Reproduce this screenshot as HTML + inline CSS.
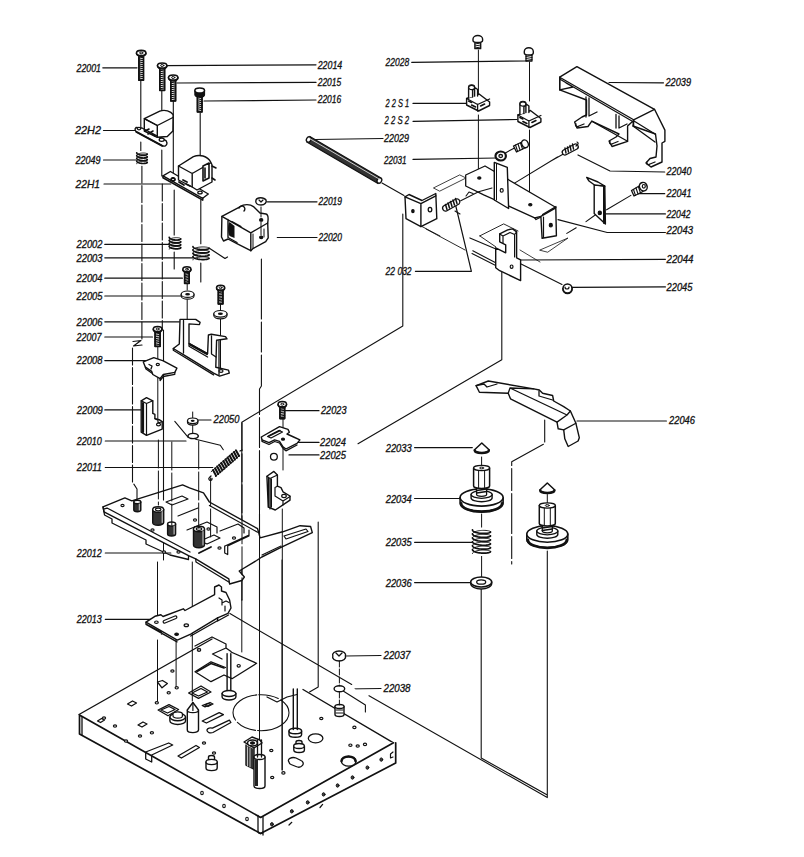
<!DOCTYPE html>
<html><head><meta charset="utf-8"><style>
html,body{margin:0;padding:0;background:#fff;width:804px;height:857px;overflow:hidden}
svg{display:block}
text{font-family:"Liberation Sans",sans-serif;font-style:italic;font-size:10.2px;fill:#111;stroke:#111;stroke-width:0.3}
</style></head><body>
<svg width="804" height="857" viewBox="0 0 804 857">
<rect width="804" height="857" fill="#fff"/>
<g fill="none" stroke="#111" stroke-width="1.2" stroke-linejoin="round" stroke-linecap="round">
<polyline points="102.8,67.8 137,67.8"/>
<polyline points="165.7,65.6 316,64.8"/>
<polyline points="177,83 316,82.4"/>
<polyline points="204,101 316,100"/>
<polyline points="103.5,130.5 136,130.5"/>
<polyline points="103.5,160 136,160"/>
<polyline points="104,184 170.7,184"/>
<polyline points="104.8,244.4 170.4,244.4"/>
<polyline points="104.8,257.8 192.8,257.8"/>
<polyline points="104.8,278.2 182.4,278.2"/>
<polyline points="104.8,296 181,296"/>
<polyline points="104.8,321.8 179.4,321.8"/>
<polyline points="104.8,337 152.5,337"/>
<polyline points="104.8,360.6 146.6,360.6"/>
<polyline points="104.8,409.9 140.6,409.9"/>
<polyline points="105.3,441 186,441"/>
<polyline points="105.3,467.5 212.8,467.5"/>
<polyline points="105.3,553 170.8,553"/>
<polyline points="105.3,619.3 150.7,619.3"/>
<polyline points="267.4,201.8 317,201.8"/>
<polyline points="277.3,237.5 317,237.5"/>
<polyline points="197.7,420 211,420"/>
<polyline points="285,410.7 319,410.7"/>
<polyline points="295,442.4 319,442.4"/>
<polyline points="289,454.9 319,454.9"/>
<polyline points="411.7,62.3 527,61"/>
<polyline points="413,103.4 466,103.4"/>
<polyline points="413,121.3 517,119.5"/>
<polyline points="314.7,139.5 383,138.5"/>
<polyline points="413,159.4 497,158"/>
<polyline points="415.4,271.3 471.4,271.3 454.6,201"/>
<polyline points="414.6,447.6 472.3,447.6"/>
<polyline points="414.6,498.5 461.8,498.5"/>
<polyline points="414.6,542.3 472.3,542.3"/>
<polyline points="414.6,582.6 470.7,582.6"/>
<polyline points="609,82.5 663.5,82.8"/>
<polyline points="578,155 610,171 664.7,172"/>
<polyline points="638,193.7 664.7,193.7"/>
<polyline points="605,213.9 665.4,213.9"/>
<polyline points="558,219.7 607.2,232.5 665.4,232.5"/>
<polyline points="520,260 665.4,259.3"/>
<polyline points="571.3,287.3 665.4,286.9"/>
<polyline points="577,421 666.4,421"/>
<polyline points="345.5,656 381,655.5"/>
<polyline points="344.7,689 381,688.5"/>
<path d="M478.4 50V100 M478.4 115V178 M529.5 62V101 M529.5 130V205" stroke-width="1"/>
<path d="M382 183 L404 195.4" stroke-width="1.1"/>
<path d="M402.8 214 V326 L241.8 422.2 V600" stroke-width="1.1"/>
<path d="M261.4 259 V386 L259.5 389 V600" stroke-width="1.1" stroke-dasharray="60 3 30 3"/>
<path d="M501.8 272 V359.7 L358 443.7" stroke-width="1.1"/>
<path d="M505.4 152.9 L515 147.7 M557.5 157 L508.8 186.6 M563.4 154 L550 161.5" stroke-width="1.1"/>
<path d="M606.6 209.8 L630.9 195.4 M597.3 213.5 L586 221.6 M576.2 227.8 L566.8 233.4" stroke-width="1.1"/>
<path d="M520.6 263.7 L562 284.5 M472.8 250.8 L495.7 262.7 M472 253.5 L495.7 265.5 M469.9 237.9 L497.7 249.8" stroke-width="1.1"/>
<path d="M540 250 L568 238 L548 252 Z M520 250 L540 262" stroke-width="0.8" fill="none"/>
<path d="M309.8 136.5 L381 178 L378 183.5 L306.8 142 Z" fill="#333" stroke-width="1.3"/>
<ellipse cx="379.4" cy="180.5" rx="2.2" ry="2.8" transform="rotate(30 379.4 180.5)" fill="#fff" stroke-width="1.3"/>
<ellipse cx="308.7" cy="139.5" rx="2.2" ry="2.8" transform="rotate(30 308.7 139.5)" fill="#fff" stroke-width="1.3"/>
<path d="M309.5 138.5 L380 179.5" stroke="#ddd" stroke-width="0.9"/>
<path d="M474.9 42 v6.7 h5.8 v-6.7" fill="#fff" stroke-width="1.3"/>
<path d="M474.9 44 l5.8 -1 M474.9 46 l5.8 -1 M474.9 48 l5.8 -1" stroke-width="1"/>
<path d="M473 39 a4.8 3.5 0 0 1 9.6 0 v1.5 a4.8 2 0 0 1 -9.6 0 Z" fill="#fff" stroke-width="1.4"/>
<path d="M526 54.5 v6.5 h6 v-6.5" fill="#fff" stroke-width="1.3"/>
<path d="M526 56.5 l6 -1 M526 58.5 l6 -1 M526 60.5 l6 -1" stroke-width="1"/>
<path d="M524.3 51.5 a4.5 3.8 0 0 1 9 0 v1.5 a4.5 2 0 0 1 -9 0 Z" fill="#fff" stroke-width="1.4"/>
<g transform="translate(466.6 84)">
<path d="M0 14.5 L12.5 10 L23 18 V21.5 L12 27 L0 21 Z" fill="#fff" stroke-width="1.4"/>
<path d="M0 14.5 L11 20.5 L23 15 M11 20.5 V27" fill="none" stroke-width="1.3"/>
<path d="M2 17 l3 1.5 M5 21 l4 2 M14 22 l4 -2" stroke-width="1.6"/>
<path d="M2 14 V3.5 a3 2.5 0 0 1 6 0 V12 M6 13 V6 l3 -2 l2 1.5 V12" fill="#fff" stroke-width="1.4"/>
<ellipse cx="5" cy="3.5" rx="3" ry="2.2" fill="#fff" stroke-width="1.3"/>
</g>
<g transform="translate(517.9 100.5)">
<path d="M0 14.5 L12.5 10 L23 18 V21.5 L12 27 L0 21 Z" fill="#fff" stroke-width="1.4"/>
<path d="M0 14.5 L11 20.5 L23 15 M11 20.5 V27" fill="none" stroke-width="1.3"/>
<path d="M2 17 l3 1.5 M5 21 l4 2 M14 22 l4 -2" stroke-width="1.6"/>
<path d="M2 14 V3.5 a3 2.5 0 0 1 6 0 V12 M6 13 V6 l3 -2 l2 1.5 V12" fill="#fff" stroke-width="1.4"/>
<ellipse cx="5" cy="3.5" rx="3" ry="2.2" fill="#fff" stroke-width="1.3"/>
</g>
<path d="M433.8 187.8 L459.7 174.9 L466 178 L440 191 Z" fill="none" stroke-width="0.8"/>
<path d="M405 196.8 L409 194.5 L422 200.5 L435.8 193.5 L436.8 218.7 L420.9 226.6 L406 218.7 Z" fill="#fff" stroke-width="1.4"/>
<path d="M405 196.8 L420.9 203.7 V226.6 M420.9 203.7 L435.8 195.8" fill="none" stroke-width="1.4"/>
<ellipse cx="412.9" cy="211.1" rx="1.2" ry="1.6" fill="#111"/>
<ellipse cx="430" cy="209.6" rx="1.8" ry="2.3" fill="#fff" stroke-width="1.3"/>
<path d="M465.7 175 L485 166 L556 207.5 L540.9 216.5 L534.7 217.8 L483.7 194.8 L465.7 186 Z" fill="#fff" stroke-width="1.3"/>
<path d="M534.7 217.8 L536 219.5 L541 217" fill="none" stroke-width="1.3"/>
<path d="M494.3 162.4 L507.3 167.4 L508.6 208.5 L494.3 200 Z" fill="#fff" stroke-width="1.4"/>
<path d="M496.5 164 V200" fill="none" stroke-width="1"/>
<ellipse cx="501.7" cy="190.4" rx="1.5" ry="1.8" fill="#fff" stroke-width="1.2"/>
<path d="M540.9 216.5 L555.8 207.8 L556.4 235.8 L542.1 238.3 Z" fill="#fff" stroke-width="1.4"/>
<path d="M542.5 214.5 L556 206.5 M543.5 217 V237.5" fill="none" stroke-width="1.2"/>
<ellipse cx="550.8" cy="225.2" rx="1.5" ry="1.8" fill="#111"/>
<ellipse cx="479.3" cy="178" rx="1.6" ry="1.1" fill="#111"/>
<ellipse cx="530.3" cy="204.7" rx="1.6" ry="1.1" fill="#111"/>
<path d="M460.7 200.7 L478.6 191.7 L492 188 M466 196 l3 -4 l4 1.5 M455 211 L460 214" fill="none" stroke-width="1.1"/>
<path d="M421 226 L440 236 M426 229 L465 250" fill="none" stroke-width="0.9"/>
<path d="M443.5 206 L456 199 a3 3 0 0 1 3 5 L446.5 211 a3 3 0 0 1 -3 -5 Z" fill="#fff" stroke-width="1.3"/><path d="M447 209.5 l-1.5 -5 M449.5 208 l-1.5 -5 M452 206.5 l-1.5 -5 M454.5 205 l-1.5 -5 M457 203.5 l-1.5 -5" stroke-width="1.5"/>
<path d="M495.5 156 a5.2 4.5 0 1 0 10.4 0 a5.2 4.5 0 1 0 -10.4 0 Z" fill="#fff" stroke-width="2.2"/>
<ellipse cx="500.7" cy="156" rx="1.8" ry="1.5" fill="#fff" stroke-width="1.3"/>
<path d="M513.5 146 L524 141 L527 147 L516.5 152 Z" fill="#fff" stroke-width="1.3"/>
<path d="M515.5 145 l2 6 M518 144 l2 6 M520.5 143 l2 6" stroke-width="1.1"/>
<ellipse cx="525" cy="143.8" rx="3.2" ry="4" transform="rotate(-25 525 143.8)" fill="#fff" stroke-width="1.4"/>
<path d="M563.5 150 L574 144.5 a2.5 2.5 0 0 1 3 4.5 L566.5 154.5 a2.5 2.5 0 0 1 -3 -4.5 Z" fill="#fff" stroke-width="1.3"/>
<path d="M566 153 l-1 -5 M568.5 152 l-1 -5 M571 150.5 l-1 -5 M573.5 149 l-1 -5" stroke-width="1.4"/>
<path d="M576 146 l2 -2 a1.5 1.5 0 0 0 -1 -2" stroke-width="1.2"/>
<path d="M479.8 235.9 L503.7 223.9 L518 231 M495.7 246.8 L479.8 235.9" fill="none" stroke-width="0.9"/>
<path d="M495.7 247.8 V267.7 L499.7 270.7 L520.6 280.6 V259.8 L516.6 257.8 V231.9 L512.6 228.9 L507.7 229.9 L499.7 233.9 V241.8 L505.7 244.8 V252.8 Z" fill="#fff" stroke-width="1.4"/>
<path d="M499.7 233.9 L503 236 L510 232.5 L514.6 234.5 V257 M503 236 V243 M514.6 234.5 L516.6 231.9" fill="none" stroke-width="1.2"/>
<ellipse cx="511.6" cy="266.7" rx="1.4" ry="1.7" fill="#fff" stroke-width="1.2"/>
<path d="M563.0 288.5 v0.5 a4.5 4.5 0 0 0 9.0 0 v-0.5" fill="#fff" stroke-width="1.6"/>
<ellipse cx="567.5" cy="288.5" rx="4.5" ry="4.5" fill="#fff" stroke-width="1.6"/>
<path d="M565 287 a2 2 0 0 0 4 0" stroke-width="1.2"/>
<path d="M594.2 184.9 L604.8 186.1 L605.4 224 L594.2 213.5 Z" fill="#fff" stroke-width="1.4"/>
<path d="M586.7 177.4 L598 182 L604.8 186.1 L594.5 185 L589 181 Z" fill="#fff" stroke-width="1.4"/>
<path d="M604 186 V223" stroke-width="2"/>
<ellipse cx="599.8" cy="212.9" rx="1.6" ry="1.8" fill="#111"/>
<path d="M631.5 190.5 L640 185.5 L643 191.5 L634 196 Z" fill="#fff" stroke-width="1.3"/>
<path d="M633.5 189.5 l2 6 M636 188 l2 6 M638.5 187 l2 6" stroke-width="1.1"/>
<ellipse cx="643.3" cy="186.7" rx="3.8" ry="4.3" transform="rotate(-25 643.3 186.7)" fill="#fff" stroke-width="1.5"/>
<ellipse cx="643.8" cy="186.3" rx="1.5" ry="1.8" fill="#fff" stroke-width="1.2"/>
<path d="M559.7 77.2 L576.9 66.7 L654.5 109.3 L664.9 130.1 V141.3 L662 143 V162 L651 167 L646 163 L650 158.5 L656 157 L657 146 L655.5 134 L633 126 L633.6 120.4 L627.6 126 V141.3 L612 146.5 L609 141 L616 137 L619 134 L591.8 121.2 L588 126.5 L577 128 L574.6 122 L582 117 L586.5 115 V100 L559.7 89.9 Z" fill="#fff" stroke-width="1.4"/>
<path d="M559.7 77.2 L633.6 119.8 L654.5 109.3 M560.5 79.5 L633.6 122 M559.7 77.2 V89.9 L573 87 L566 83 M586 97 V117 M589 98 V116 l8 -4 M616 114.5 V128 M619 116 V128 l8 -4 M634 121 L655 134 M591.8 121.2 L627.6 141.3 M633 126 L655 142 M633.6 120.4 V126" fill="none" stroke-width="1.3"/>
<path d="M576 124 a2 1.5 0 0 0 3 2 l5 -2 M610 141.5 a2 1.5 0 0 0 3 2 l5 -2 M647 162 a2 1.5 0 0 0 3 2 l5 -2" fill="none" stroke-width="1.3"/>

<path d="M544.7 420 V443.5 L511.7 461.8 V564" stroke-width="1.1" stroke-dasharray="22 3 40 3"/>
<path d="M481.2 588 V758 L547.3 795 M547.3 551 V797.6 L369 695.7" stroke-width="1.1"/>
<path d="M481.6 514 V528 M481.6 556 V577" stroke-width="1"/>
<path d="M476.1 385.6 L488.3 381 L533.8 388.9 L539.3 390 L542.6 393.3 L552.6 395.5 L553.7 401 L563.7 406.6 L570.4 411 L575.9 423.3 L579.3 437.7 L578.1 441 L568.2 446.5 L564.8 438.8 L563.7 429.9 L558.2 428.8 L557 422.1 L510.5 398.8 L508.2 393.3 L479.4 392.2 Z" fill="#fff" stroke-width="1.4"/>
<path d="M476.1 385.6 L484 384 L487 387 L497 384 M508.2 393.3 L510 388 L533.8 388.9 M510 388 L567 415 L570.4 411 M557 422.1 L567 415 M563.7 429.9 L575.9 423.3 M539 391 V396 L552.6 400" fill="none" stroke-width="1.3"/>
<path d="M474.3 450 L481.8 443 L489.3 450 a7.5 3 0 0 1 -15 0 Z" fill="#fff" stroke-width="1.5"/>
<path d="M474.8 450.5 a7 2.5 0 0 0 14 0" fill="none" stroke-width="2.5"/>
<path d="M539.8 490 L547.3 483 L554.8 490 a7.5 3 0 0 1 -15 0 Z" fill="#fff" stroke-width="1.5"/>
<path d="M540.3 490.5 a7 2.5 0 0 0 14 0" fill="none" stroke-width="2.5"/>
<path d="M481.6 457 V466" stroke-width="1"/>
<path d="M460.1 497.5 v5.5 a21.5 8.6 0 0 0 43.0 0 v-5.5" fill="#fff" stroke-width="1.6"/>
<path d="M461.1 503.5 a20.5 8.2 0 0 0 41.0 0" fill="none" stroke-width="2.8"/>
<ellipse cx="481.6" cy="497.5" rx="21.5" ry="8.6" fill="#fff" stroke-width="1.6"/>
<path d="M471.1 494.5 v3.5 a10.5 3.8 0 0 0 21 0 v-3.5" fill="#fff" stroke-width="1.4"/>
<ellipse cx="481.6" cy="494.5" rx="10.5" ry="3.8" fill="#fff" stroke-width="1.3"/>
<path d="M476.6 485 V494.5 a5 1.8 0 0 0 10 0 V485" fill="#fff" stroke-width="1.3"/>
<path d="M476.6 488 l10 -1.5 M476.6 490.5 l10 -1.5 M476.6 493 l10 -1.5" stroke-width="1.5"/>
<path d="M473.6 468 V486 a8 2.5 0 0 0 16 0 V468" fill="#fff" stroke-width="1.5"/>
<path d="M478.6 470 V487.5 M484.6 470 V487.5" stroke-width="1"/>
<ellipse cx="481.6" cy="468" rx="8" ry="2.6" fill="#fff" stroke-width="1.4"/>
<ellipse cx="481.6" cy="468" rx="2" ry="0.9" fill="#fff" stroke-width="1"/>
<path d="M547.3 494.5 V503.5" stroke-width="1"/>
<path d="M526.8 534 v5.5 a20.5 8.2 0 0 0 41.0 0 v-5.5" fill="#fff" stroke-width="1.6"/>
<path d="M527.8 540 a19.5 7.8 0 0 0 39.0 0" fill="none" stroke-width="2.8"/>
<ellipse cx="547.3" cy="534" rx="20.5" ry="8.2" fill="#fff" stroke-width="1.6"/>
<path d="M536.8 531 v3.5 a10.5 3.8 0 0 0 21 0 v-3.5" fill="#fff" stroke-width="1.4"/>
<ellipse cx="547.3" cy="531" rx="10.5" ry="3.8" fill="#fff" stroke-width="1.3"/>
<path d="M542.3 522.5 V531 a5 1.8 0 0 0 10 0 V522.5" fill="#fff" stroke-width="1.3"/>
<path d="M542.3 525.5 l10 -1.5 M542.3 528.0 l10 -1.5 M542.3 530.5 l10 -1.5" stroke-width="1.5"/>
<path d="M539.3 505.5 V523.5 a8 2.5 0 0 0 16 0 V505.5" fill="#fff" stroke-width="1.5"/>
<path d="M544.3 507.5 V525.0 M550.3 507.5 V525.0" stroke-width="1"/>
<ellipse cx="547.3" cy="505.5" rx="8" ry="2.6" fill="#fff" stroke-width="1.4"/>
<ellipse cx="547.3" cy="505.5" rx="2" ry="0.9" fill="#fff" stroke-width="1"/>
<rect x="472.5" y="527.5" width="18" height="28.5" fill="#fff" stroke="none"/>
<path d="M490.50,531.91 L490.42,531.67 L490.19,531.44 L489.81,531.22 L489.29,531.02 L488.64,530.83 L487.86,530.68 L486.98,530.55 L486.00,530.45 L484.94,530.39 L483.83,530.37 L482.67,530.39 L481.50,530.45 L480.33,530.55 L479.17,530.70 L478.06,530.88 L477.00,531.11 L476.02,531.37 L475.14,531.66 L474.36,531.98 L473.71,532.33 L473.19,532.70 L472.81,533.08 L472.58,533.48 L472.50,533.88M490.50,535.85 L490.42,535.61 L490.19,535.38 L489.81,535.16 L489.29,534.95 L488.64,534.77 L487.86,534.61 L486.98,534.48 L486.00,534.39 L484.94,534.33 L483.83,534.31 L482.67,534.33 L481.50,534.39 L480.33,534.49 L479.17,534.63 L478.06,534.82 L477.00,535.04 L476.02,535.30 L475.14,535.59 L474.36,535.92 L473.71,536.26 L473.19,536.63 L472.81,537.02 L472.58,537.41 L472.50,537.81M490.50,539.78 L490.42,539.55 L490.19,539.31 L489.81,539.09 L489.29,538.89 L488.64,538.70 L487.86,538.55 L486.98,538.42 L486.00,538.32 L484.94,538.26 L483.83,538.24 L482.67,538.26 L481.50,538.32 L480.33,538.43 L479.17,538.57 L478.06,538.76 L477.00,538.98 L476.02,539.24 L475.14,539.53 L474.36,539.85 L473.71,540.20 L473.19,540.57 L472.81,540.95 L472.58,541.35 L472.50,541.75M490.50,543.72 L490.42,543.48 L490.19,543.25 L489.81,543.03 L489.29,542.82 L488.64,542.64 L487.86,542.48 L486.98,542.35 L486.00,542.26 L484.94,542.20 L483.83,542.18 L482.67,542.20 L481.50,542.26 L480.33,542.36 L479.17,542.51 L478.06,542.69 L477.00,542.91 L476.02,543.17 L475.14,543.47 L474.36,543.79 L473.71,544.14 L473.19,544.50 L472.81,544.89 L472.58,545.28 L472.50,545.69M490.50,547.65 L490.42,547.42 L490.19,547.19 L489.81,546.96 L489.29,546.76 L488.64,546.58 L487.86,546.42 L486.98,546.29 L486.00,546.19 L484.94,546.13 L483.83,546.11 L482.67,546.13 L481.50,546.19 L480.33,546.30 L479.17,546.44 L478.06,546.63 L477.00,546.85 L476.02,547.11 L475.14,547.40 L474.36,547.72 L473.71,548.07 L473.19,548.44 L472.81,548.83 L472.58,549.22 L472.50,549.62M490.50,551.59 L490.42,551.35 L490.19,551.12 L489.81,550.90 L489.29,550.70 L488.64,550.51 L487.86,550.35 L486.98,550.23 L486.00,550.13 L484.94,550.07 L483.83,550.05 L482.67,550.07 L481.50,550.13 L480.33,550.23 L479.17,550.38 L478.06,550.56 L477.00,550.79 L476.02,551.05 L475.14,551.34 L474.36,551.66 L473.71,552.01 L473.19,552.38 L472.81,552.76 L472.58,553.16 L472.50,553.56" stroke-width="0.9" fill="none"/>
<path d="M472.50,529.94 L472.58,530.34 L472.81,530.74 L473.19,531.12 L473.71,531.49 L474.36,531.84 L475.14,532.16 L476.02,532.45 L477.00,532.71 L478.06,532.94 L479.17,533.12 L480.33,533.27 L481.50,533.37 L482.67,533.43 L483.83,533.45 L484.94,533.43 L486.00,533.37 L486.98,533.27 L487.86,533.15 L488.64,532.99 L489.29,532.80 L489.81,532.60 L490.19,532.38 L490.42,532.15 L490.50,531.91M472.50,533.88 L472.58,534.28 L472.81,534.67 L473.19,535.06 L473.71,535.43 L474.36,535.78 L475.14,536.10 L476.02,536.39 L477.00,536.65 L478.06,536.87 L479.17,537.06 L480.33,537.20 L481.50,537.31 L482.67,537.37 L483.83,537.39 L484.94,537.37 L486.00,537.31 L486.98,537.21 L487.86,537.08 L488.64,536.92 L489.29,536.74 L489.81,536.54 L490.19,536.31 L490.42,536.08 L490.50,535.85M472.50,537.81 L472.58,538.22 L472.81,538.61 L473.19,539.00 L473.71,539.36 L474.36,539.71 L475.14,540.03 L476.02,540.33 L477.00,540.59 L478.06,540.81 L479.17,540.99 L480.33,541.14 L481.50,541.24 L482.67,541.30 L483.83,541.32 L484.94,541.30 L486.00,541.24 L486.98,541.15 L487.86,541.02 L488.64,540.86 L489.29,540.68 L489.81,540.47 L490.19,540.25 L490.42,540.02 L490.50,539.78M472.50,541.75 L472.58,542.15 L472.81,542.55 L473.19,542.93 L473.71,543.30 L474.36,543.65 L475.14,543.97 L476.02,544.26 L477.00,544.52 L478.06,544.74 L479.17,544.93 L480.33,545.07 L481.50,545.18 L482.67,545.24 L483.83,545.26 L484.94,545.24 L486.00,545.18 L486.98,545.08 L487.86,544.95 L488.64,544.80 L489.29,544.61 L489.81,544.41 L490.19,544.19 L490.42,543.95 L490.50,543.72M472.50,545.69 L472.58,546.09 L472.81,546.48 L473.19,546.87 L473.71,547.24 L474.36,547.58 L475.14,547.91 L476.02,548.20 L477.00,548.46 L478.06,548.68 L479.17,548.87 L480.33,549.01 L481.50,549.11 L482.67,549.17 L483.83,549.19 L484.94,549.17 L486.00,549.11 L486.98,549.02 L487.86,548.89 L488.64,548.73 L489.29,548.55 L489.81,548.34 L490.19,548.12 L490.42,547.89 L490.50,547.65M472.50,549.62 L472.58,550.02 L472.81,550.42 L473.19,550.80 L473.71,551.17 L474.36,551.52 L475.14,551.84 L476.02,552.13 L477.00,552.39 L478.06,552.62 L479.17,552.80 L480.33,552.95 L481.50,553.05 L482.67,553.11 L483.83,553.13 L484.94,553.11 L486.00,553.05 L486.98,552.95 L487.86,552.82 L488.64,552.67 L489.29,552.48 L489.81,552.28 L490.19,552.06 L490.42,551.83 L490.50,551.59" stroke-width="1.7" fill="none"/>
<path d="M470.7 582 v1.5 a10.5 5.5 0 0 0 21 0 v-1.5" fill="#fff" stroke-width="1.4"/>
<ellipse cx="481.2" cy="582" rx="10.5" ry="5" fill="#fff" stroke-width="1.5"/><ellipse cx="481.2" cy="582" rx="4.5" ry="2.2" fill="#fff" stroke-width="1.3"/>
<path d="M79 714.5 L212 639 L229.9 613.6 L351.7 684.5 L393.5 742.8 L262.7 816 Z" fill="#fff" stroke="none"/>
<path d="M79 714.5 L212 639 M303 689.5 L393.5 742.8" fill="none" stroke-width="1.4"/>
<path d="M79.5 715 V734 L260.6 833.5 L395.7 763 V742.8 M79.5 715 L260.6 817.5 L393.5 742.8" fill="#fff" stroke-width="1.7"/>
<path d="M82 717 V735 M263 817 V835 M258 815.5 V831 a2.5 2.5 0 0 0 5 0" fill="none" stroke-width="1.3"/>

<ellipse cx="202" cy="793" rx="1.3" ry="1.7" fill="#fff" stroke-width="1.1"/>
<ellipse cx="224" cy="806" rx="1.3" ry="1.7" fill="#fff" stroke-width="1.1"/>
<ellipse cx="247" cy="819" rx="1.3" ry="1.7" fill="#fff" stroke-width="1.1"/>
<ellipse cx="271.9" cy="824.3" rx="1.4" ry="1.7" fill="#444" stroke-width="1"/>
<ellipse cx="291.8" cy="811.3" rx="1.4" ry="1.7" fill="#444" stroke-width="1"/>
<ellipse cx="307.7" cy="802.4" rx="1.4" ry="1.7" fill="#444" stroke-width="1"/>
<ellipse cx="323.6" cy="794.4" rx="1.4" ry="1.7" fill="#444" stroke-width="1"/>
<ellipse cx="337.6" cy="785.5" rx="1.4" ry="1.7" fill="#444" stroke-width="1"/>
<ellipse cx="352.5" cy="777.5" rx="1.4" ry="1.7" fill="#444" stroke-width="1"/>
<ellipse cx="367.4" cy="767.6" rx="1.4" ry="1.7" fill="#444" stroke-width="1"/>
<ellipse cx="381.3" cy="759.6" rx="1.4" ry="1.7" fill="#444" stroke-width="1"/>
<path d="M291.8 822.3 L289 825 M322.6 804.4 L320 807.5 M393 752 l-2.5 2 v4 l2.5 -1" fill="none" stroke-width="1.2"/>
<path d="M229.9 613.6 L351.7 684.5 M340 689 L365.4 705 V712 M318.2 522 V687 L309.5 692" stroke-width="1.1"/><path d="M241.8 600 V652 M259.5 600 V736 M282 560 V770 M157.5 562 V620 M157.5 640 V702 M176.1 640 V687 M192.3 562 V701 M163.5 500 V560" stroke-width="1"/><path d="M267 697 L277 702 L287 697 L297 694.5" fill="none" stroke-width="1.2"/>
<ellipse cx="261" cy="712.7" rx="28" ry="18" fill="none" stroke-width="1.1" stroke-dasharray="40 2 20 3"/>
<path d="M195 646 L212 637 L226 644 V648 L212.5 654 L222 659 M231 652 L256.6 663.3 L232 678.7 L224 675 L211 681.7 L195 671.8 L211 661.8 L225.5 667.5 M226 648 L231 651.5" fill="none" stroke-width="1.3"/>
<path d="M197 671.5 L211 663.5 L224 668" fill="none" stroke-width="1.6"/>
<ellipse cx="198.9" cy="649.9" rx="1.6" ry="1.2" fill="#fff" stroke-width="1.2"/>
<ellipse cx="238.7" cy="665.8" rx="1.6" ry="1.3" fill="#fff" stroke-width="1.2"/>
<path d="M157.5 682 L162.5 680.5 L167.4 683.5 L162 687.8 Z M188.6 693 L201 686 L211 692 L198.5 698.4 Z M192 693 L201 688.5 L207.5 692 L198.5 696 Z M202.2 705.5 L208 703.4 L211 704.5 L205 706.8 Z M158.1 710 L169 704.6 L178.6 709.5 L168 715.8 Z M161 710 L169 706.5 L175 709.5 L167.5 713 Z" fill="none" stroke-width="1.3"/>
<path d="M202.2 721 l17 -8.3 l4.2 2 l-17 8.3 Z M178 756 l18 -10.5 l3.4 2 l-18 10.5 Z M206.9 730 a4 3 0 0 0 6 2.5 l18 -10 l-1.5 -2.3 l-17 8 a4 3 0 0 0 -5.5 1.8 Z M145.7 752 l23 -9 l4 2 l-21 10 v7 l-6 -3 Z" fill="none" stroke-width="1.3"/>
<path d="M220 730 L235 722 l3 1.5 L222.5 732 Z" fill="#111" stroke="none" opacity="0"/>
<path d="M169.9 717 v4 a7.8 3.5 0 0 0 15.6 0 V717" fill="#fff" stroke-width="1.4"/>
<ellipse cx="177.7" cy="717" rx="7.8" ry="3.8" fill="#fff" stroke-width="1.4"/>
<path d="M173 716 v-2 a4.7 2.2 0 0 1 9.4 0 v2 a4.7 2.2 0 0 1 -9.4 0" fill="#fff" stroke-width="1.2"/>
<path d="M187.3 710 l5.6 -7.5 l5.6 7.5 V730 a5.6 2.6 0 0 1 -11.2 0 Z" fill="#fff" stroke-width="1.4"/>
<path d="M187.3 710 a5.6 2.6 0 0 0 11.2 0 M192.9 702.5 v8" fill="none" stroke-width="1.2"/>
<path d="M227.1 653.6 V692 M230.8 653.6 V692" stroke-width="1.4"/>
<path d="M222.1 693.5 v3.5 a6.9 3 0 0 0 13.8 0 v-3.5" fill="#fff" stroke-width="1.4"/>
<ellipse cx="229" cy="693.5" rx="6.9" ry="3" fill="#fff" stroke-width="1.4"/>
<path d="M289 731 v3.5 a6.3 2.8 0 0 0 12.6 0 v-3.5" fill="#fff" stroke-width="1.4"/>
<ellipse cx="295.3" cy="731" rx="6.3" ry="2.8" fill="#fff" stroke-width="1.4"/>
<path d="M293.3 689 V729.5 M297.3 689 V729.5" stroke-width="1.4"/>

<path d="M206 762 v6 a5.6 2.6 0 0 0 11.2 0 v-6 M208.5 762 v-5 a3 1.5 0 0 1 6 0 v5" fill="#fff" stroke-width="1.4"/>
<ellipse cx="211.6" cy="762" rx="5.6" ry="2.6" fill="#fff" stroke-width="1.3"/>
<path d="M293.8 746 v4 a5.3 2.5 0 0 0 10.6 0 v-4 M296 746 v-4 a3 1.5 0 0 1 6 0 v4" fill="#fff" stroke-width="1.4"/>
<ellipse cx="299" cy="746" rx="5.3" ry="2.5" fill="#fff" stroke-width="1.3"/>
<path d="M289 762 a5 3 0 0 1 7 -4 l5 2.5 a4 3 0 0 1 -5 6 l-5 -2 a3 3 0 0 1 -2 -2.5 Z" fill="#fff" stroke-width="1.3"/>
<ellipse cx="315.6" cy="738.3" rx="7.3" ry="4.5" fill="#fff" stroke-width="1.3"/>
<ellipse cx="348.7" cy="761.3" rx="7.3" ry="4.8" fill="#fff" stroke-width="1.3"/>
<path d="M341.5 761 a7 4.5 0 0 1 14 0" fill="none" stroke-width="2.5"/>
<path d="M246 745 v20 l8 4 v-22" fill="#fff" stroke-width="1.4"/>
<path d="M244 742 l8 -5 l8 3 l2 3 l-8 5 Z" fill="#fff" stroke-width="1.4"/>
<ellipse cx="252.5" cy="743" rx="5" ry="3" fill="#fff" stroke-width="1.5"/>
<ellipse cx="252.5" cy="743" rx="2" ry="1.2" fill="#111"/>
<path d="M246 745 L254 749 V769 L246 765 Z" fill="#333" stroke="none"/><path d="M247.5 747 V766 M250 748 V767" stroke="#fff" stroke-width="0.7"/>
<path d="M254 757 V786 a5.5 2.5 0 0 0 11 0 V757" fill="#fff" stroke-width="1.4"/>
<ellipse cx="259.5" cy="757" rx="5.5" ry="2.5" fill="#fff" stroke-width="1.3"/>
<path d="M255 759 V786 h3 V760 Z" fill="#222" stroke="none"/>
<path d="M257.5 740 V757 M261.5 740 V757" stroke-width="1.3"/>
<path d="M335 706.5 v8 a4.5 2 0 0 0 9 0 v-8" fill="#fff" stroke-width="1.4"/>
<ellipse cx="339.5" cy="706.5" rx="4.5" ry="2" fill="#fff" stroke-width="1.3"/>
<path d="M336 710 h7 M336 713 h7" stroke-width="1"/>
<path d="M97.5 721 l4 -2.5 l3 1.5 l-4 2.5 Z M138 725 l5 -3 l4 2 l-5 3 Z M127.5 704 l5 -3 l4 2 l-5 3 Z M205 705 l5 -2.5 l3 1.5 l-5 2.5 Z" fill="none" stroke-width="1.3"/>
<ellipse cx="168.7" cy="692.8" rx="1.6" ry="1.2" fill="#fff" stroke-width="1.2"/>
<ellipse cx="176.7" cy="687.8" rx="1.6" ry="1.2" fill="#fff" stroke-width="1.2"/>
<ellipse cx="172.4" cy="671" rx="1.6" ry="1.2" fill="#fff" stroke-width="1.2"/>
<ellipse cx="199.1" cy="649.9" rx="1.6" ry="1.2" fill="#fff" stroke-width="1.2"/>
<ellipse cx="156.8" cy="702.8" rx="1.6" ry="1.2" fill="#fff" stroke-width="1.2"/>
<ellipse cx="151.9" cy="732.8" rx="1.6" ry="1.2" fill="#fff" stroke-width="1.2"/>
<ellipse cx="204" cy="743" rx="1.6" ry="1.2" fill="#fff" stroke-width="1.2"/>
<ellipse cx="271.3" cy="750.5" rx="1.6" ry="1.2" fill="#fff" stroke-width="1.2"/>
<ellipse cx="272.2" cy="777.5" rx="1.6" ry="1.2" fill="#fff" stroke-width="1.2"/>
<ellipse cx="283.4" cy="772.9" rx="1.6" ry="1.2" fill="#fff" stroke-width="1.2"/>
<ellipse cx="321.3" cy="718.5" rx="1.6" ry="1.2" fill="#fff" stroke-width="1.2"/>
<ellipse cx="354.4" cy="727.4" rx="1.6" ry="1.2" fill="#fff" stroke-width="1.2"/>
<ellipse cx="350.4" cy="745.2" rx="1.6" ry="1.2" fill="#fff" stroke-width="1.2"/>
<ellipse cx="357.7" cy="746" rx="1.6" ry="1.2" fill="#fff" stroke-width="1.2"/>
<ellipse cx="365" cy="744.4" rx="1.6" ry="1.2" fill="#fff" stroke-width="1.2"/>
<ellipse cx="104" cy="718" rx="1.6" ry="1.2" fill="#fff" stroke-width="1.2"/>
<ellipse cx="126" cy="741" rx="1.6" ry="1.2" fill="#fff" stroke-width="1.2"/>
<ellipse cx="140" cy="736" rx="1.6" ry="1.2" fill="#fff" stroke-width="1.2"/>
<ellipse cx="115" cy="726" rx="1.6" ry="1.2" fill="#fff" stroke-width="1.2"/>
<ellipse cx="214" cy="753" rx="1.6" ry="1.2" fill="#fff" stroke-width="1.2"/>
<path d="M332.8 656 a6.5 4 0 1 0 12.6 0 a6.5 4 0 1 0 -12.6 0 Z" fill="#fff" stroke-width="1.4"/>
<path d="M336 653 l3 3 l3 -3" stroke-width="1.3"/>
<ellipse cx="339.4" cy="688.8" rx="5.3" ry="3" fill="#fff" stroke-width="1.4"/>
<path d="M339.4 661V686 M339.4 692V705" stroke-width="1" stroke-dasharray="6 2"/>
<path d="M103 506.8 L124.9 497.9 L131.8 500.8 L182.6 484.9 L189.5 487.9 L203.5 492.9 L209.4 502 L257.6 528.7 L260.1 537.9 L282.7 531.8 L300.1 525.7 L310.6 526.5 L312.3 532.6 L281 547.4 L261.8 557 L256.6 560.5 L239.2 571 L244.4 577 L241.8 580.5 L229.6 584 L228.8 578.8 L195.7 558.8 L188.5 555.6 L104 511.8 Z" fill="#fff" stroke-width="1.4"/>
<path d="M103 506.8 L104 511.8 M103.5 509 L107 508 L190 552 M104 511.8 L104.5 515 L112 519 V523 L128 531 L146 540 V544 L170 555 L188.5 559.5 V556 M195.7 558.8 L196 562 L228.8 582" fill="none" stroke-width="1.3"/>
<path d="M209.4 505.5 L257.6 532.2 M284 536 L306 529 L308 531.5 L286 539 Z M262 555 L281 546" fill="none" stroke-width="1.2"/>
<path d="M166 502 l16 -6 l6 3 l-16 6 Z M178 516 l20 -8 M187 530 l20 -8 l10 5 v6 M200 541 l14 -6 l6 3 l-13 6 Z M220 531 l18 -7 l6 4 l0 5 M224.7 546 V553 l3 1.5 V546 L249 536 V530 M225 546 L249 535" fill="none" stroke-width="1.2"/>
<path d="M199 553 L211 547" stroke-width="1.8"/>
<path d="M133.8 502 V510 a3.5 1.75 0 0 0 7 0 V502" fill="#333" stroke-width="1.4"/>
<ellipse cx="137.3" cy="502" rx="3.5" ry="1.75" fill="#fff" stroke-width="1.4"/>
<path d="M139.3 504 V510" stroke="#fff" stroke-width="0.8"/>
<path d="M152.7 509.5 V522.5 a5.5 2.75 0 0 0 11 0 V509.5" fill="#333" stroke-width="1.4"/>
<ellipse cx="158.2" cy="509.5" rx="5.5" ry="2.75" fill="#fff" stroke-width="1.4"/>
<path d="M162.2 511.5 V522.5" stroke="#fff" stroke-width="0.8"/>
<ellipse cx="158.2" cy="509.5" rx="2.75" ry="1.375" fill="#fff" stroke-width="1.1"/>
<path d="M167.6 524 V534 a4.0 2.0 0 0 0 8 0 V524" fill="#333" stroke-width="1.4"/>
<ellipse cx="171.6" cy="524" rx="4.0" ry="2.0" fill="#fff" stroke-width="1.4"/>
<path d="M174.1 526 V534" stroke="#fff" stroke-width="0.8"/>
<path d="M193.5 529 V545 a5.5 2.75 0 0 0 11 0 V529" fill="#333" stroke-width="1.4"/>
<ellipse cx="199" cy="529" rx="5.5" ry="2.75" fill="#fff" stroke-width="1.4"/>
<path d="M203.0 531 V545" stroke="#fff" stroke-width="0.8"/>
<ellipse cx="199" cy="529" rx="2.75" ry="1.375" fill="#fff" stroke-width="1.1"/>
<ellipse cx="122.5" cy="505.5" rx="1.6" ry="1.1" fill="#fff" stroke-width="1.1"/>
<ellipse cx="152.5" cy="530" rx="1.6" ry="1.1" fill="#fff" stroke-width="1.1"/>
<ellipse cx="178.5" cy="552" rx="1.6" ry="1.1" fill="#fff" stroke-width="1.1"/>
<ellipse cx="195" cy="520" rx="1.6" ry="1.1" fill="#fff" stroke-width="1.1"/>
<ellipse cx="219.5" cy="548" rx="1.6" ry="1.1" fill="#fff" stroke-width="1.1"/>
<ellipse cx="208.5" cy="529" rx="1.6" ry="1.1" fill="#fff" stroke-width="1.1"/>
<ellipse cx="164" cy="552" rx="1.6" ry="1.1" fill="#fff" stroke-width="1.1"/>
<ellipse cx="234" cy="538" rx="1.6" ry="1.1" fill="#fff" stroke-width="1.1"/>
<path d="M146 622.2 L154.9 616.3 L160.9 614.8 L163 616.5 L183.3 608.8 L185 610.5 L214.6 594.6 V587 L219 585 L221.5 587 V591 L226 592.5 L229.6 600 L231 608 L228 613.3 L217.6 617.8 L190.7 634.2 L177.3 640.1 Z" fill="#fff" stroke-width="1.4"/>
<path d="M146 622.2 v2.2 L177 641.8 M146 624 L161.5 632 l0 2 M217.6 617.8 l0 3.2 M217.6 621 L228.5 615 M190.7 636 L217 621" fill="none" stroke-width="1.4"/>
<path d="M222 603 l4 -2 l3 1.5 M219 598 l3 2 v5 M225 606 v5" fill="none" stroke-width="1.2"/>
<ellipse cx="156.4" cy="622.2" rx="1.8" ry="1.2" fill="#fff" stroke-width="1.2"/>
<ellipse cx="186.3" cy="625.2" rx="2.2" ry="1.4" fill="#fff" stroke-width="1.2"/>
<ellipse cx="176.6" cy="634.2" rx="1.8" ry="1.2" fill="#111"/>
<path d="M164 620.5 l11 -4.5 a1.3 1.3 0 0 1 1 2.5 l-11 4.5 a1.3 1.3 0 0 1 -1 -2.5 Z" fill="#fff" stroke-width="1.2"/>
<g stroke-width="1.1">
<path d="M140.8 80V127 M140.8 142V151"/>
<path d="M141.9 166V339 M132.5 348V482 L137 489 V500" stroke-dasharray="17 2.5"/>
<path d="M161.8 90V139 M161.8 150V176"/>
<path d="M162.3 184V330" stroke-dasharray="17 2.5"/><path d="M163.5 330V500"/>
<path d="M173.3 100V173 M174.2 190V236 M174.2 252V269"/>
<path d="M200.2 113V192 M200.8 200V244 M200.8 263V282"/>
</g>
<rect x="138.9" y="55.8" width="4.6" height="24.5" fill="#fff"/>
<path d="M138.9 58.1L143.5 57.3M138.9 60.1L143.5 59.3M138.9 62.1L143.5 61.3M138.9 64.1L143.5 63.3M138.9 66.1L143.5 65.3M138.9 68.1L143.5 67.3M138.9 70.1L143.5 69.3M138.9 72.1L143.5 71.3M138.9 74.1L143.5 73.3M138.9 76.1L143.5 75.3M138.9 78.1L143.5 77.3M138.9 80.1L143.5 79.3" stroke-width="1.1"/>
<path d="M138.9 55.8V80.3H143.5V55.8" fill="none" stroke-width="1.6"/>
<path d="M136.5 53.2 a4.7 3.2 0 0 0 9.4 0" fill="#fff" stroke-width="1.6"/>
<ellipse cx="141.2" cy="52.900000000000006" rx="4.7" ry="2.56" fill="#fff" stroke-width="1.6"/>
<ellipse cx="141.2" cy="52.900000000000006" rx="1.65" ry="0.96" fill="none" stroke-width="1"/>
<rect x="159.8" y="68.4" width="4.8" height="22" fill="#fff"/>
<path d="M159.8 70.7L164.6 69.9M159.8 72.7L164.6 71.9M159.8 74.7L164.6 73.9M159.8 76.7L164.6 75.9M159.8 78.7L164.6 77.9M159.8 80.7L164.6 79.9M159.8 82.7L164.6 81.9M159.8 84.7L164.6 83.9M159.8 86.7L164.6 85.9M159.8 88.7L164.6 87.9" stroke-width="1.1"/>
<path d="M159.8 68.4V90.4H164.6V68.4" fill="none" stroke-width="1.6"/>
<path d="M157.5 65.8 a4.7 3.2 0 0 0 9.4 0" fill="#fff" stroke-width="1.6"/>
<ellipse cx="162.2" cy="65.5" rx="4.7" ry="2.56" fill="#fff" stroke-width="1.6"/>
<ellipse cx="162.2" cy="65.5" rx="1.65" ry="0.96" fill="none" stroke-width="1"/>
<rect x="170.8" y="80.4" width="4.8" height="20.5" fill="#fff"/>
<path d="M170.8 82.7L175.6 81.9M170.8 84.7L175.6 83.9M170.8 86.7L175.6 85.9M170.8 88.7L175.6 87.9M170.8 90.7L175.6 89.9M170.8 92.7L175.6 91.9M170.8 94.7L175.6 93.9M170.8 96.7L175.6 95.9M170.8 98.7L175.6 97.9M170.8 100.7L175.6 99.9" stroke-width="1.1"/>
<path d="M170.8 80.4V100.9H175.6V80.4" fill="none" stroke-width="1.6"/>
<path d="M168.5 77.8 a4.7 3.2 0 0 0 9.4 0" fill="#fff" stroke-width="1.6"/>
<ellipse cx="173.2" cy="77.5" rx="4.7" ry="2.56" fill="#fff" stroke-width="1.6"/>
<ellipse cx="173.2" cy="77.5" rx="1.65" ry="0.96" fill="none" stroke-width="1"/>
<rect x="197.4" y="93.9" width="4.6" height="18" fill="#fff"/>
<path d="M197.4 96.2L202.0 95.4M197.4 98.2L202.0 97.4M197.4 100.2L202.0 99.4M197.4 102.2L202.0 101.4M197.4 104.2L202.0 103.4M197.4 106.2L202.0 105.4M197.4 108.2L202.0 107.4M197.4 110.2L202.0 109.4" stroke-width="1.1"/>
<path d="M197.4 93.9V111.9H202.0V93.9" fill="none" stroke-width="1.6"/>
<path d="M194.89999999999998 90.5 v4.2 a4.8 2.52 0 0 0 9.6 0 v-4.2" fill="#111"/>
<ellipse cx="199.7" cy="90.5" rx="4.8" ry="2.52" fill="#fff" stroke-width="1.5"/>
<path d="M136 127.5 c-1.5 1 -1 3.5 0.5 4.5 L162 145.6 c2.5 1.3 5 0 5 -2.5 l-1 -2.5 L142 128 Z" fill="#fff" stroke-width="1.4"/>
<path d="M136.4 131.9 L162.3 145.8" stroke-width="2"/>
<path d="M144.3 118.7 L159.8 111.2 c5 -2 11 0 13.3 3.5 L172.9 131 L167.3 136.5 L157.3 137.3 L157.3 125.5 Z" fill="#fff" stroke-width="1.4"/>
<path d="M144.3 118.7 L157.3 125.5 L172.9 117.5 M144.3 118.7 V131 L157.3 137.3" fill="none" stroke-width="1.4"/>
<path d="M145 131 l4 -2 M148 134 l5 -3 M152 134 l3 2" stroke-width="1.6"/>
<ellipse cx="161.7" cy="139.8" rx="2.5" ry="1.6" fill="#fff" stroke-width="1.3"/>
<ellipse cx="139" cy="128.6" rx="1.8" ry="1.2" fill="#fff" stroke-width="1.2"/>
<rect x="136.8" y="151.0" width="10.5" height="14.5" fill="#fff" stroke="none"/>
<path d="M147.25,154.12 L147.21,153.95 L147.07,153.78 L146.85,153.62 L146.55,153.48 L146.17,153.35 L145.71,153.23 L145.20,153.14 L144.62,153.07 L144.01,153.03 L143.36,153.01 L142.69,153.02 L142.00,153.07 L141.31,153.14 L140.64,153.24 L139.99,153.37 L139.38,153.53 L138.80,153.71 L138.29,153.92 L137.83,154.15 L137.45,154.40 L137.15,154.66 L136.93,154.93 L136.79,155.21 L136.75,155.50M147.25,156.87 L147.21,156.70 L147.07,156.54 L146.85,156.38 L146.55,156.23 L146.17,156.10 L145.71,155.99 L145.20,155.89 L144.62,155.82 L144.01,155.78 L143.36,155.77 L142.69,155.78 L142.00,155.82 L141.31,155.89 L140.64,156.00 L139.99,156.13 L139.38,156.28 L138.80,156.47 L138.29,156.68 L137.83,156.90 L137.45,157.15 L137.15,157.41 L136.93,157.68 L136.79,157.97 L136.75,158.25M147.25,159.63 L147.21,159.46 L147.07,159.29 L146.85,159.13 L146.55,158.99 L146.17,158.86 L145.71,158.74 L145.20,158.65 L144.62,158.58 L144.01,158.54 L143.36,158.52 L142.69,158.53 L142.00,158.58 L141.31,158.65 L140.64,158.75 L139.99,158.88 L139.38,159.04 L138.80,159.22 L138.29,159.43 L137.83,159.66 L137.45,159.91 L137.15,160.17 L136.93,160.44 L136.79,160.72 L136.75,161.00M147.25,162.38 L147.21,162.21 L147.07,162.05 L146.85,161.89 L146.55,161.74 L146.17,161.61 L145.71,161.50 L145.20,161.40 L144.62,161.33 L144.01,161.29 L143.36,161.28 L142.69,161.29 L142.00,161.33 L141.31,161.40 L140.64,161.51 L139.99,161.64 L139.38,161.79 L138.80,161.98 L138.29,162.19 L137.83,162.41 L137.45,162.66 L137.15,162.92 L136.93,163.19 L136.79,163.48 L136.75,163.76" stroke-width="0.9" fill="none"/>
<path d="M136.75,152.74 L136.79,153.02 L136.93,153.31 L137.15,153.58 L137.45,153.84 L137.83,154.09 L138.29,154.31 L138.80,154.52 L139.38,154.71 L139.99,154.86 L140.64,154.99 L141.31,155.10 L142.00,155.17 L142.69,155.21 L143.36,155.22 L144.01,155.21 L144.62,155.17 L145.20,155.10 L145.71,155.00 L146.17,154.89 L146.55,154.76 L146.85,154.61 L147.07,154.45 L147.21,154.29 L147.25,154.12M136.75,155.50 L136.79,155.78 L136.93,156.06 L137.15,156.33 L137.45,156.59 L137.83,156.84 L138.29,157.07 L138.80,157.28 L139.38,157.46 L139.99,157.62 L140.64,157.75 L141.31,157.85 L142.00,157.92 L142.69,157.97 L143.36,157.98 L144.01,157.96 L144.62,157.92 L145.20,157.85 L145.71,157.76 L146.17,157.64 L146.55,157.51 L146.85,157.37 L147.07,157.21 L147.21,157.04 L147.25,156.87M136.75,158.25 L136.79,158.53 L136.93,158.82 L137.15,159.09 L137.45,159.35 L137.83,159.60 L138.29,159.82 L138.80,160.03 L139.38,160.22 L139.99,160.37 L140.64,160.50 L141.31,160.61 L142.00,160.68 L142.69,160.72 L143.36,160.73 L144.01,160.72 L144.62,160.68 L145.20,160.61 L145.71,160.51 L146.17,160.40 L146.55,160.27 L146.85,160.12 L147.07,159.96 L147.21,159.80 L147.25,159.63M136.75,161.00 L136.79,161.29 L136.93,161.57 L137.15,161.84 L137.45,162.10 L137.83,162.35 L138.29,162.58 L138.80,162.79 L139.38,162.97 L139.99,163.13 L140.64,163.26 L141.31,163.36 L142.00,163.43 L142.69,163.48 L143.36,163.49 L144.01,163.47 L144.62,163.43 L145.20,163.36 L145.71,163.27 L146.17,163.15 L146.55,163.02 L146.85,162.88 L147.07,162.72 L147.21,162.55 L147.25,162.38" stroke-width="1.7" fill="none"/>
<path d="M163 175.9 L202.7 198.3 L208.3 194 L170.4 171.5 Z" fill="#fff" stroke-width="1.4"/>
<path d="M163 175.9 v1.8 L202.7 200.1 v-1.8" fill="none" stroke-width="1.6"/>
<path d="M178.5 166 L193.4 156.6 c6 -2.5 14 -1 17.4 5.6 L212 164.7 V182 L197 190 L192.2 187 L178.5 180 Z" fill="#fff" stroke-width="1.4"/>
<path d="M178.5 166 L192.2 173.5 L210.5 163 M192.2 173.5 V187" fill="none" stroke-width="1.4"/>
<path d="M203 166 l6 -3 v15 l-6 3 Z M205 168 v10 M212 166 l4 2 M212 178 l3 2" fill="#fff" stroke-width="1.6"/>
<path d="M173 178 a2 1.5 0 1 0 0.1 0 M179 182 l5 3 M183 180 l4 2 M186 184 l4 2" stroke-width="1.8"/>
<ellipse cx="200" cy="192.5" rx="2.2" ry="1.4" fill="#fff" stroke-width="1.3"/>
<path d="M221.9 216.4 L239.9 206.9 c4 -3 10 -3 14 0 L260 213 L266 214 c2 0.5 2.5 4 1.7 8.8 L268.2 237.8 L265.7 241.7 L252.8 248.7 L250.8 250.7 L236.9 243.7 L228 239 L223.5 241 L221.5 237 Z" fill="#fff" stroke-width="1.4"/>
<path d="M221.9 216.4 L250.8 232.8 L267.7 223 M250.8 232.8 V250.7 M228 219.5 v18 l9 5 M232 221.5 l9 5" fill="none" stroke-width="1.4"/>
<path d="M229.5 222 c-2 3 -2 10 0 14 l5 2 v-12 Z" fill="#111" stroke="none"/>
<path d="M253 234 v14 M264 229 v8" stroke-width="1"/>
<ellipse cx="261.2" cy="219.9" rx="1.6" ry="1.3" fill="#111"/>
<ellipse cx="261.2" cy="237.3" rx="1.6" ry="1.3" fill="#111"/>
<path d="M239 208 a3 3 0 1 1 5 3" stroke-width="1.4"/>
<path d="M261 207 V217 M261 222 V235" stroke-width="1"/>
<path d="M256 200 c1 -3 8 -3 10 0 c1 2 -1 5 -5 5 c-4 0 -6 -2 -5 -5 Z" fill="#fff" stroke-width="1.4"/>
<path d="M259 200 l2 2 l2 -2" stroke-width="1.2"/>
<rect x="169.2" y="235.5" width="11.5" height="15.5" fill="#fff" stroke="none"/>
<path d="M180.75,238.83 L180.70,238.65 L180.55,238.47 L180.31,238.30 L179.98,238.15 L179.56,238.01 L179.07,237.89 L178.50,237.79 L177.88,237.71 L177.20,237.67 L176.49,237.65 L175.75,237.66 L175.00,237.71 L174.25,237.79 L173.51,237.89 L172.80,238.03 L172.12,238.20 L171.50,238.40 L170.93,238.62 L170.44,238.87 L170.02,239.13 L169.69,239.41 L169.45,239.70 L169.30,240.00 L169.25,240.31M180.75,241.78 L180.70,241.60 L180.55,241.42 L180.31,241.25 L179.98,241.09 L179.56,240.95 L179.07,240.83 L178.50,240.73 L177.88,240.66 L177.20,240.61 L176.49,240.59 L175.75,240.61 L175.00,240.65 L174.25,240.73 L173.51,240.84 L172.80,240.98 L172.12,241.15 L171.50,241.34 L170.93,241.57 L170.44,241.81 L170.02,242.07 L169.69,242.35 L169.45,242.65 L169.30,242.95 L169.25,243.25M180.75,244.72 L180.70,244.54 L180.55,244.36 L180.31,244.19 L179.98,244.04 L179.56,243.90 L179.07,243.78 L178.50,243.68 L177.88,243.60 L177.20,243.56 L176.49,243.54 L175.75,243.55 L175.00,243.60 L174.25,243.68 L173.51,243.78 L172.80,243.92 L172.12,244.09 L171.50,244.29 L170.93,244.51 L170.44,244.76 L170.02,245.02 L169.69,245.30 L169.45,245.59 L169.30,245.89 L169.25,246.19M180.75,247.67 L180.70,247.49 L180.55,247.31 L180.31,247.14 L179.98,246.98 L179.56,246.84 L179.07,246.72 L178.50,246.62 L177.88,246.55 L177.20,246.50 L176.49,246.48 L175.75,246.50 L175.00,246.54 L174.25,246.62 L173.51,246.73 L172.80,246.87 L172.12,247.04 L171.50,247.23 L170.93,247.46 L170.44,247.70 L170.02,247.96 L169.69,248.24 L169.45,248.54 L169.30,248.84 L169.25,249.14" stroke-width="0.9" fill="none"/>
<path d="M169.25,237.36 L169.30,237.66 L169.45,237.96 L169.69,238.26 L170.02,238.54 L170.44,238.80 L170.93,239.04 L171.50,239.27 L172.12,239.46 L172.80,239.63 L173.51,239.77 L174.25,239.88 L175.00,239.96 L175.75,240.00 L176.49,240.02 L177.20,240.00 L177.88,239.95 L178.50,239.88 L179.07,239.78 L179.56,239.66 L179.98,239.52 L180.31,239.36 L180.55,239.19 L180.70,239.01 L180.75,238.83M169.25,240.31 L169.30,240.61 L169.45,240.91 L169.69,241.20 L170.02,241.48 L170.44,241.74 L170.93,241.99 L171.50,242.21 L172.12,242.41 L172.80,242.58 L173.51,242.72 L174.25,242.82 L175.00,242.90 L175.75,242.95 L176.49,242.96 L177.20,242.94 L177.88,242.90 L178.50,242.82 L179.07,242.72 L179.56,242.60 L179.98,242.46 L180.31,242.31 L180.55,242.14 L180.70,241.96 L180.75,241.78M169.25,243.25 L169.30,243.55 L169.45,243.85 L169.69,244.15 L170.02,244.43 L170.44,244.69 L170.93,244.93 L171.50,245.16 L172.12,245.35 L172.80,245.52 L173.51,245.66 L174.25,245.77 L175.00,245.85 L175.75,245.89 L176.49,245.91 L177.20,245.89 L177.88,245.84 L178.50,245.77 L179.07,245.67 L179.56,245.55 L179.98,245.41 L180.31,245.25 L180.55,245.08 L180.70,244.90 L180.75,244.72M169.25,246.19 L169.30,246.50 L169.45,246.80 L169.69,247.09 L170.02,247.37 L170.44,247.63 L170.93,247.88 L171.50,248.10 L172.12,248.30 L172.80,248.47 L173.51,248.61 L174.25,248.71 L175.00,248.79 L175.75,248.84 L176.49,248.85 L177.20,248.83 L177.88,248.79 L178.50,248.71 L179.07,248.61 L179.56,248.49 L179.98,248.35 L180.31,248.20 L180.55,248.03 L180.70,247.85 L180.75,247.67" stroke-width="1.7" fill="none"/>
<rect x="193.0" y="244.5" width="16" height="17.5" fill="#fff" stroke="none"/>
<path d="M209.00,248.26 L208.93,248.06 L208.73,247.86 L208.39,247.67 L207.93,247.49 L207.35,247.33 L206.66,247.19 L205.87,247.08 L205.00,247.00 L204.06,246.95 L203.07,246.93 L202.04,246.94 L201.00,246.99 L199.96,247.08 L198.93,247.20 L197.94,247.36 L197.00,247.55 L196.13,247.77 L195.34,248.02 L194.65,248.30 L194.07,248.60 L193.61,248.91 L193.27,249.24 L193.07,249.58 L193.00,249.92M209.00,251.59 L208.93,251.38 L208.73,251.18 L208.39,250.99 L207.93,250.81 L207.35,250.66 L206.66,250.52 L205.87,250.41 L205.00,250.32 L204.06,250.27 L203.07,250.25 L202.04,250.27 L201.00,250.32 L199.96,250.41 L198.93,250.53 L197.94,250.69 L197.00,250.88 L196.13,251.10 L195.34,251.35 L194.65,251.63 L194.07,251.92 L193.61,252.24 L193.27,252.57 L193.07,252.91 L193.00,253.25M209.00,254.91 L208.93,254.71 L208.73,254.51 L208.39,254.32 L207.93,254.14 L207.35,253.98 L206.66,253.84 L205.87,253.73 L205.00,253.65 L204.06,253.60 L203.07,253.58 L202.04,253.59 L201.00,253.64 L199.96,253.73 L198.93,253.85 L197.94,254.01 L197.00,254.20 L196.13,254.42 L195.34,254.67 L194.65,254.95 L194.07,255.25 L193.61,255.56 L193.27,255.89 L193.07,256.23 L193.00,256.57M209.00,258.24 L208.93,258.03 L208.73,257.83 L208.39,257.64 L207.93,257.46 L207.35,257.31 L206.66,257.17 L205.87,257.06 L205.00,256.97 L204.06,256.92 L203.07,256.90 L202.04,256.92 L201.00,256.97 L199.96,257.06 L198.93,257.18 L197.94,257.34 L197.00,257.53 L196.13,257.75 L195.34,258.00 L194.65,258.28 L194.07,258.57 L193.61,258.89 L193.27,259.22 L193.07,259.56 L193.00,259.90" stroke-width="0.9" fill="none"/>
<path d="M193.00,246.60 L193.07,246.94 L193.27,247.28 L193.61,247.61 L194.07,247.93 L194.65,248.22 L195.34,248.50 L196.13,248.75 L197.00,248.97 L197.94,249.16 L198.93,249.32 L199.96,249.44 L201.00,249.53 L202.04,249.58 L203.07,249.60 L204.06,249.58 L205.00,249.53 L205.87,249.44 L206.66,249.33 L207.35,249.19 L207.93,249.04 L208.39,248.86 L208.73,248.67 L208.93,248.47 L209.00,248.26M193.00,249.92 L193.07,250.27 L193.27,250.61 L193.61,250.94 L194.07,251.25 L194.65,251.55 L195.34,251.83 L196.13,252.08 L197.00,252.30 L197.94,252.49 L198.93,252.65 L199.96,252.77 L201.00,252.86 L202.04,252.91 L203.07,252.92 L204.06,252.90 L205.00,252.85 L205.87,252.77 L206.66,252.66 L207.35,252.52 L207.93,252.36 L208.39,252.18 L208.73,251.99 L208.93,251.79 L209.00,251.59M193.00,253.25 L193.07,253.59 L193.27,253.93 L193.61,254.26 L194.07,254.58 L194.65,254.87 L195.34,255.15 L196.13,255.40 L197.00,255.62 L197.94,255.81 L198.93,255.97 L199.96,256.09 L201.00,256.18 L202.04,256.23 L203.07,256.25 L204.06,256.23 L205.00,256.18 L205.87,256.09 L206.66,255.98 L207.35,255.84 L207.93,255.69 L208.39,255.51 L208.73,255.32 L208.93,255.12 L209.00,254.91M193.00,256.57 L193.07,256.92 L193.27,257.26 L193.61,257.59 L194.07,257.90 L194.65,258.20 L195.34,258.48 L196.13,258.73 L197.00,258.95 L197.94,259.14 L198.93,259.30 L199.96,259.42 L201.00,259.51 L202.04,259.56 L203.07,259.57 L204.06,259.55 L205.00,259.50 L205.87,259.42 L206.66,259.31 L207.35,259.17 L207.93,259.01 L208.39,258.83 L208.73,258.64 L208.93,258.44 L209.00,258.24" stroke-width="1.7" fill="none"/>
<path d="M209 248 L225 258.5 l2.5 -1.5" stroke-width="1.2"/>
<path d="M187.2 282V290 M187.2 299V323 M220.5 302V310 M220.5 318V370" stroke-width="1"/>
<rect x="184.6" y="271.9" width="4.6" height="11.5" fill="#fff"/>
<path d="M184.6 274.2L189.2 273.4M184.6 275.8L189.2 275.0M184.6 277.4L189.2 276.6M184.6 279.0L189.2 278.2M184.6 280.6L189.2 279.8M184.6 282.2L189.2 281.4" stroke-width="1.1"/>
<path d="M184.6 271.9V283.4H189.2V271.9" fill="none" stroke-width="1.6"/>
<path d="M182.9 269.5 a4 3 0 0 0 8 0" fill="#fff" stroke-width="1.6"/>
<ellipse cx="186.9" cy="269.2" rx="4" ry="2.40" fill="#fff" stroke-width="1.6"/>
<ellipse cx="186.9" cy="269.2" rx="1.40" ry="0.90" fill="none" stroke-width="1"/>
<rect x="218.3" y="290.4" width="4.6" height="13.5" fill="#fff"/>
<path d="M218.3 292.7L222.9 291.9M218.3 294.3L222.9 293.5M218.3 295.9L222.9 295.1M218.3 297.5L222.9 296.7M218.3 299.1L222.9 298.3M218.3 300.7L222.9 299.9M218.3 302.3L222.9 301.5M218.3 303.9L222.9 303.1" stroke-width="1.1"/>
<path d="M218.3 290.4V303.9H222.9V290.4" fill="none" stroke-width="1.6"/>
<path d="M216.6 288 a4 3 0 0 0 8 0" fill="#fff" stroke-width="1.6"/>
<ellipse cx="220.6" cy="287.7" rx="4" ry="2.40" fill="#fff" stroke-width="1.6"/>
<ellipse cx="220.6" cy="287.7" rx="1.40" ry="0.90" fill="none" stroke-width="1"/>
<path d="M181.2 294.2 v1.8 a6.4 3.2 0 0 0 12.8 0 v-1.8" fill="#fff"/>
<ellipse cx="187.6" cy="294.2" rx="6.4" ry="3.2" fill="#fff"/>
<ellipse cx="187.6" cy="294.2" rx="2.4" ry="1.2" fill="#111" stroke="none"/>
<path d="M213.8 313.8 v1.8 a6.6 3.3 0 0 0 13.2 0 v-1.8" fill="#fff"/>
<ellipse cx="220.4" cy="313.8" rx="6.6" ry="3.3" fill="#fff"/>
<ellipse cx="220.4" cy="313.8" rx="2.5" ry="1.3" fill="#111" stroke="none"/>
<path d="M180 319.4 L195.7 319.4 L200.1 322.4 L199.4 324.6 L189 323.9 L189 343.3 L207.6 353.7 L208.4 335 L211.3 334.3 L225.5 336.6 L227 338.8 L216.6 340.3 L215.8 367.2 L228.5 370.1 L229.3 373.1 L219.6 376.1 L213.6 373.1 L186.7 356.7 L173.3 348.5 L179.3 344 Z" fill="#fff" stroke-width="1.4"/>
<path d="M183.5 320.5 V353 M189 343.3 l0 3 L207.6 357 M211.5 336 V354 L216 357 M219 341 V375 M173.3 348.5 l0 1.8 L213.6 374.9" fill="none" stroke-width="1.3"/>
<path d="M190 344.5 L207 354" stroke-width="2.2"/>
<ellipse cx="221" cy="371" rx="2" ry="1.3" fill="#fff" stroke-width="1.2"/>
<path d="M157.8 345V363 M157.8 377V421" stroke-width="1"/>
<rect x="155.1" y="331.9" width="5" height="14.5" fill="#fff"/>
<path d="M155.1 334.2L160.1 333.4M155.1 336.0L160.1 335.2M155.1 337.8L160.1 337.0M155.1 339.6L160.1 338.8M155.1 341.4L160.1 340.6M155.1 343.2L160.1 342.4M155.1 345.0L160.1 344.2" stroke-width="1.1"/>
<path d="M155.1 331.9V346.4H160.1V331.9" fill="none" stroke-width="1.6"/>
<path d="M153.29999999999998 329.3 a4.3 3.2 0 0 0 8.6 0" fill="#fff" stroke-width="1.6"/>
<ellipse cx="157.6" cy="329.0" rx="4.3" ry="2.56" fill="#fff" stroke-width="1.6"/>
<ellipse cx="157.6" cy="329.0" rx="1.50" ry="0.96" fill="none" stroke-width="1"/>
<path d="M143.3 361.9 L153.8 357.7 L163.3 360.9 L176.9 368.2 L174.8 372.4 L163.3 374.5 L160.1 378.7 L152.8 374.5 L151.7 371.4 L145.4 367.2 Z" fill="#fff" stroke-width="1.4"/>
<path d="M145.4 367.2 L146 369 L151.7 373 M160.1 378.7 V380.5 L163.3 376.5 L174.8 374.3 V372.4 M149 364.5 l3 1.5 l-1 3" fill="none" stroke-width="1.3"/>
<ellipse cx="157.8" cy="364.5" rx="1.6" ry="1.1" fill="#fff" stroke-width="1.2"/>
<path d="M133 341.5 L141 340.5 L133.5 346 L142 345" stroke-width="1.2"/>
<path d="M141.2 400.8 L146.5 397.6 L152.8 400.8 V413.4 L154.9 414.4 V418.6 L159.1 419.6 L162.2 421.7 V429.1 L146.5 435.4 L141.2 432.2 Z" fill="#fff" stroke-width="1.4"/>
<path d="M141.2 400.8 L146.5 403.5 L152.8 400.8 M146.5 403.5 V435.4 M154.9 418.6 L158 420.3 V423 L162.2 421.7" fill="none" stroke-width="1.2"/>
<path d="M143 403 V432" stroke-width="2.2"/>
<ellipse cx="158.5" cy="424.5" rx="2" ry="1.4" fill="#fff" stroke-width="1.2"/>
<path d="M192.7 412V418 M192.7 424V433" stroke-width="1"/>
<path d="M187.5 420.8 v1.5 a5.2 2.8 0 0 0 10.4 0 v-1.5" fill="#fff"/>
<ellipse cx="192.7" cy="420.8" rx="5.2" ry="2.8" fill="#fff"/>
<ellipse cx="192.7" cy="420.8" rx="2.0" ry="1.1" fill="#111" stroke="none"/>
<path d="M174.8 421.3 L188.2 437.3 M195.7 439.3 L220.3 445.2 L223.3 449.7" stroke-width="1.1"/>
<path d="M187.8 436 a5.4 3.3 0 0 1 10.6 0 a5.4 3.3 0 0 1 -10.6 0 Z" fill="#fff" stroke-width="1.4"/>
<path d="M215.4 476.5L239.8 455.4M211.2 471.6L235.6 450.5" stroke-width="1"/>
<path d="M216.1 475.8L213.0 470.1M218.2 474.0L215.1 468.3M220.3 472.2L217.2 466.5M222.4 470.4L219.3 464.7M224.5 468.6L221.3 462.9M226.5 466.8L223.4 461.1M228.6 465.0L225.5 459.3M230.7 463.2L227.6 457.5M232.8 461.4L229.7 455.7M234.9 459.6L231.8 453.9M237.0 457.8L233.9 452.1M239.1 456.0L235.9 450.3" stroke-width="2"/>
<path d="M211.0 476.0 l-1.5 1.5 a1.6 1.6 0 1 0 2.5 1 M240.0 451.0 l2 -1" stroke-width="1.3"/>
<path d="M158.4 440V505 M171.8 442V525 M198.7 441V528 M210.6 478V540 M242 422.8V600" stroke-width="1" stroke-dasharray="28 3"/>
<path d="M283 419V428 M283 449V470 M282.3 509V770 M259.5 480V740" stroke-width="1"/>
<rect x="279.9" y="407.1" width="4.7" height="11.5" fill="#fff"/>
<path d="M279.9 409.4L284.7 408.6M279.9 411.1L284.7 410.3M279.9 412.8L284.7 412.0M279.9 414.5L284.7 413.7M279.9 416.2L284.7 415.4M279.9 417.9L284.7 417.1" stroke-width="1.1"/>
<path d="M279.9 407.1V418.6H284.7V407.1" fill="none" stroke-width="1.6"/>
<path d="M278.1 404.5 a4.2 3.3 0 0 0 8.4 0" fill="#fff" stroke-width="1.6"/>
<ellipse cx="282.3" cy="404.2" rx="4.2" ry="2.64" fill="#fff" stroke-width="1.6"/>
<ellipse cx="282.3" cy="404.2" rx="1.47" ry="0.99" fill="none" stroke-width="1"/>
<path d="M261.3 437 L279.5 426.6 L288 429.4 L289.4 432.2 L287 434 L293.6 437 L299.9 439.9 L297 443.4 L285.9 449 L283 446.9 L279.5 441.3 L274.6 439.9 L269 442.7 L262 439.9 Z" fill="#fff" stroke-width="1.4"/>
<path d="M262 439.9 v1.5 L269 444.5 L274.6 441.5 L279.5 443 L283 448.5 L285.9 450.8 L297 445" fill="none" stroke-width="1.3"/>
<path d="M267.5 436.5 L279 430.5 L282.5 432 L271 438 Z" fill="none" stroke-width="1.2"/>
<path d="M269 436 L280 430.5" stroke-width="1.5"/>
<ellipse cx="283" cy="439.2" rx="1.5" ry="1" fill="#111"/>
<circle cx="273.9" cy="456.7" r="3.4" fill="#fff" stroke-width="1.3"/>
<path d="M266.9 476.3 L273.9 471.4 L277.4 475 V486.2 L281 487.6 L283 491.8 L290 496 V500.2 L275.3 510 L268.3 507.2 Z" fill="#fff" stroke-width="1.4"/>
<path d="M266.9 476.3 L270 478.5 L277.4 475 M270 478.5 V509 M268.5 478 V507 M277.4 486.2 L275 487.5 V496 L283 501 L290 496.5 M283 501 V505" fill="none" stroke-width="1.2"/>
<path d="M271.2 479 V507" stroke-width="1.6"/>
<ellipse cx="284" cy="496" rx="2.3" ry="1.6" fill="#fff" stroke-width="1.2"/>
</g>
<g>
<text x="76.5" y="71.8" textLength="24.5" lengthAdjust="spacingAndGlyphs">22001</text>
<text x="75" y="134.3" textLength="26" lengthAdjust="spacingAndGlyphs">22H2</text>
<text x="75.5" y="163.8" textLength="25" lengthAdjust="spacingAndGlyphs">22049</text>
<text x="75.5" y="187.8" textLength="24.5" lengthAdjust="spacingAndGlyphs">22H1</text>
<text x="76.5" y="248.3" textLength="26" lengthAdjust="spacingAndGlyphs">22002</text>
<text x="76.5" y="261.8" textLength="26" lengthAdjust="spacingAndGlyphs">22003</text>
<text x="76.5" y="282.3" textLength="26" lengthAdjust="spacingAndGlyphs">22004</text>
<text x="76.5" y="300.3" textLength="26" lengthAdjust="spacingAndGlyphs">22005</text>
<text x="76.5" y="325.8" textLength="26" lengthAdjust="spacingAndGlyphs">22006</text>
<text x="76.5" y="341.3" textLength="25" lengthAdjust="spacingAndGlyphs">22007</text>
<text x="76.5" y="364.3" textLength="26" lengthAdjust="spacingAndGlyphs">22008</text>
<text x="76.8" y="413.8" textLength="26" lengthAdjust="spacingAndGlyphs">22009</text>
<text x="76.8" y="445.3" textLength="25" lengthAdjust="spacingAndGlyphs">22010</text>
<text x="76.8" y="470.8" textLength="25" lengthAdjust="spacingAndGlyphs">22011</text>
<text x="76.8" y="556.8" textLength="25" lengthAdjust="spacingAndGlyphs">22012</text>
<text x="76.8" y="622.8" textLength="25" lengthAdjust="spacingAndGlyphs">22013</text>
<text x="317.7" y="68.6" textLength="24.5" lengthAdjust="spacingAndGlyphs">22014</text>
<text x="317.7" y="86.4" textLength="23.5" lengthAdjust="spacingAndGlyphs">22015</text>
<text x="317.7" y="103.3" textLength="23.5" lengthAdjust="spacingAndGlyphs">22016</text>
<text x="318.5" y="205.4" textLength="23.5" lengthAdjust="spacingAndGlyphs">22019</text>
<text x="318.5" y="241.1" textLength="23.5" lengthAdjust="spacingAndGlyphs">22020</text>
<text x="213.5" y="422.8" textLength="26" lengthAdjust="spacingAndGlyphs">22050</text>
<text x="321" y="414.3" textLength="25.5" lengthAdjust="spacingAndGlyphs">22023</text>
<text x="320" y="446.3" textLength="26" lengthAdjust="spacingAndGlyphs">22024</text>
<text x="320" y="458.8" textLength="26" lengthAdjust="spacingAndGlyphs">22025</text>
<text x="385.6" y="66.1" textLength="23.5" lengthAdjust="spacingAndGlyphs">22028</text>
<text x="385.6" y="106.8" textLength="23.5" lengthAdjust="spacingAndGlyphs">2 2 S 1</text>
<text x="384.5" y="124.3" textLength="24.5" lengthAdjust="spacingAndGlyphs">2 2 S 2</text>
<text x="384" y="142.3" textLength="25" lengthAdjust="spacingAndGlyphs">22029</text>
<text x="384" y="163.8" textLength="22.5" lengthAdjust="spacingAndGlyphs">22031</text>
<text x="385.6" y="275.3" textLength="26" lengthAdjust="spacingAndGlyphs">22 032</text>
<text x="385.7" y="451.6" textLength="26" lengthAdjust="spacingAndGlyphs">22033</text>
<text x="385.7" y="503.3" textLength="26" lengthAdjust="spacingAndGlyphs">22034</text>
<text x="385.7" y="546.3" textLength="26" lengthAdjust="spacingAndGlyphs">22035</text>
<text x="385.7" y="586.6" textLength="26" lengthAdjust="spacingAndGlyphs">22036</text>
<text x="383.5" y="659.3" textLength="27" lengthAdjust="spacingAndGlyphs">22037</text>
<text x="383.5" y="692.3" textLength="27" lengthAdjust="spacingAndGlyphs">22038</text>
<text x="665.5" y="86.4" textLength="25.5" lengthAdjust="spacingAndGlyphs">22039</text>
<text x="666.5" y="175.3" textLength="25" lengthAdjust="spacingAndGlyphs">22040</text>
<text x="666.5" y="196.8" textLength="25" lengthAdjust="spacingAndGlyphs">22041</text>
<text x="666.5" y="217.8" textLength="24" lengthAdjust="spacingAndGlyphs">22042</text>
<text x="666.5" y="234.3" textLength="26.5" lengthAdjust="spacingAndGlyphs">22043</text>
<text x="666.5" y="262.8" textLength="27" lengthAdjust="spacingAndGlyphs">22044</text>
<text x="666.5" y="290.6" textLength="26" lengthAdjust="spacingAndGlyphs">22045</text>
<text x="669" y="423.8" textLength="26" lengthAdjust="spacingAndGlyphs">22046</text>
</g>
</svg>
</body></html>
